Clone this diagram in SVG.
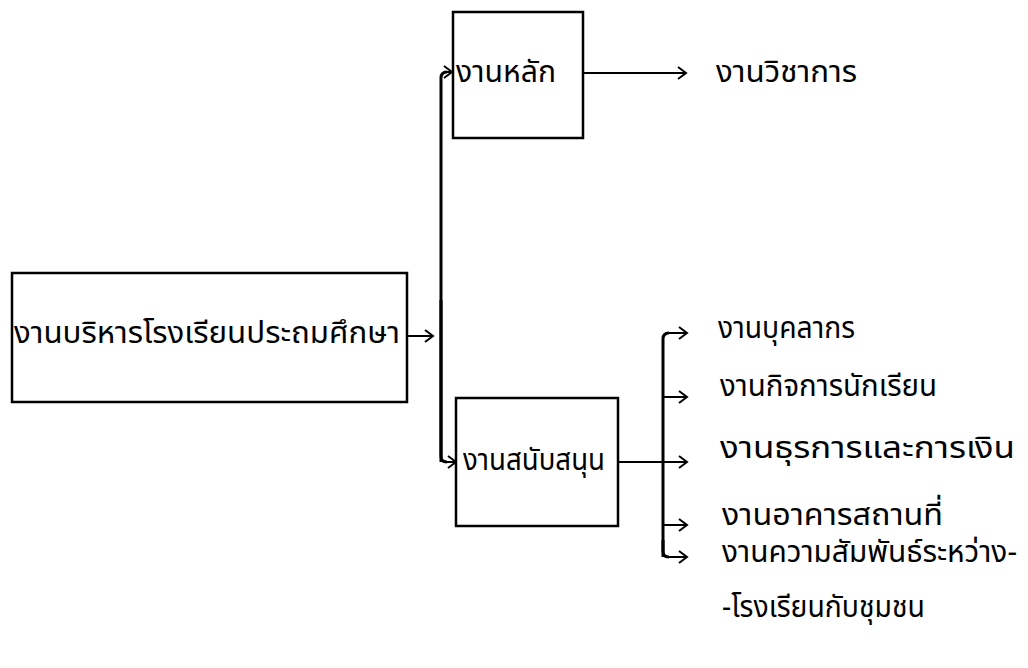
<svg xmlns="http://www.w3.org/2000/svg" width="1028" height="668" viewBox="0 0 1028 668">
<defs>
<style>
.box{fill:#fff;stroke:#000;stroke-width:2.5}
.ln{fill:none;stroke:#000;stroke-width:2}
.br{fill:none;stroke:#000;stroke-width:3}
.t{font-family:"Noto Sans Thai","Noto Sans","DejaVu Sans",sans-serif;font-size:30px;fill:#000}
</style>
<marker id="ah" markerUnits="userSpaceOnUse" markerWidth="14" markerHeight="16" refX="11" refY="8" orient="auto">
<path d="M3,2 L11,8 L3,14" fill="none" stroke="#000" stroke-width="2"/>
</marker>
</defs>
<rect width="1028" height="668" fill="#fff"/>
<g id="connectors">
<path class="ln" d="M407,336 H433" marker-end="url(#ah)"/>
<path class="br" d="M441,462 V78 Q441,72 447,72"/>
<path class="ln" d="M445,72 H452" marker-end="url(#ah)"/>
<path class="br" d="M441,300 V456 Q441,462 447,462"/>
<path class="ln" d="M445,462 H456" marker-end="url(#ah)"/>
<path class="ln" d="M583,73 H686" marker-end="url(#ah)"/>
<path class="ln" d="M618,462 H687" marker-end="url(#ah)"/>
<path class="br" d="M663,557 V339 Q663,333 669,333"/>
<path class="ln" d="M667,333 H687" marker-end="url(#ah)"/>
<path class="ln" d="M663,397 H687" marker-end="url(#ah)"/>
<path class="ln" d="M663,525 H687" marker-end="url(#ah)"/>
<path class="br" d="M663,540 V551 Q663,557 669,557"/>
<path class="ln" d="M667,557 H687" marker-end="url(#ah)"/>
</g>
<g id="main">
<rect class="box" x="12" y="273" width="395" height="129"/>
<text class="t" x="14" y="343" textLength="386" lengthAdjust="spacingAndGlyphs">งานบริหารโรงเรียนประถมศึกษา</text>
</g>
<g id="core">
<rect class="box" x="453" y="12" width="130" height="126"/>
<text class="t" x="456" y="82" textLength="100" lengthAdjust="spacingAndGlyphs">งานหลัก</text>
</g>
<g id="support">
<rect class="box" x="456" y="398" width="162" height="128"/>
<text class="t" x="463" y="470" textLength="142" lengthAdjust="spacingAndGlyphs">งานสนับสนุน</text>
</g>
<g id="academic"><text class="t" x="716" y="82" textLength="141" lengthAdjust="spacingAndGlyphs">งานวิชาการ</text></g>
<g id="personnel"><text class="t" x="718" y="338" textLength="137" lengthAdjust="spacingAndGlyphs">งานบุคลากร</text></g>
<g id="student"><text class="t" x="720" y="396" textLength="217" lengthAdjust="spacingAndGlyphs">งานกิจการนักเรียน</text></g>
<g id="finance"><text class="t" x="720" y="458" textLength="295" lengthAdjust="spacingAndGlyphs">งานธุรการและการเงิน</text></g>
<g id="building"><text class="t" x="722" y="525" textLength="221" lengthAdjust="spacingAndGlyphs">งานอาคารสถานที่</text></g>
<g id="community">
<text class="t" x="722" y="562" textLength="295" lengthAdjust="spacingAndGlyphs">งานความสัมพันธ์ระหว่าง-</text>
<text class="t" x="722" y="617" textLength="203" lengthAdjust="spacingAndGlyphs">-โรงเรียนกับชุมชน</text>
</g>
</svg>
